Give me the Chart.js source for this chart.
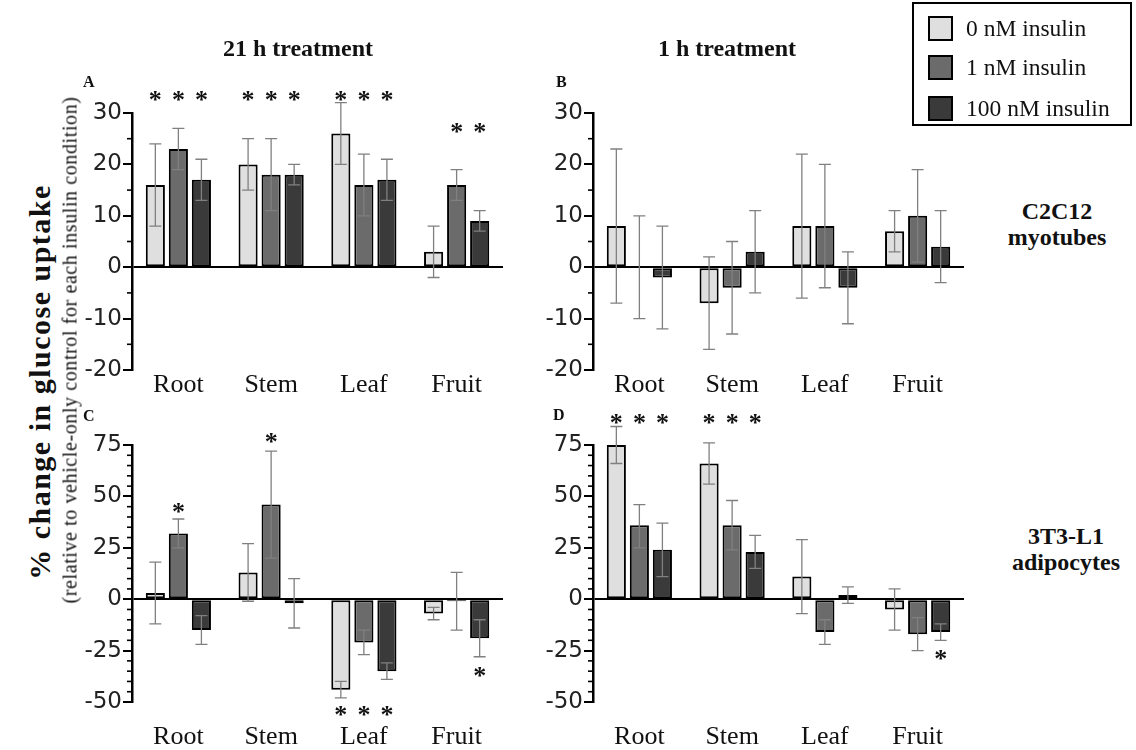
<!DOCTYPE html>
<html>
<head>
<meta charset="utf-8">
<script src="https://cdn.jsdelivr.net/npm/chart.js@4"></script>
<style>
  html, body { margin:0; padding:0; background:#fff; overflow:hidden; }
  body { width:1136px; height:750px; position:relative; font-family:"Liberation Serif", serif; color:#111; }
  canvas { position:absolute; }
  .t { position:absolute; white-space:nowrap; }
  .title { font-weight:bold; font-size:24px; transform:translateX(-50%); }
  .letter { font-weight:bold; font-size:16px; }
  .side { font-weight:bold; font-size:24px; text-align:center; line-height:26px; transform:translateX(-50%); }
  .ytitle { font-weight:bold; font-size:30px; letter-spacing:1.5px; transform:translate(-50%,-50%) rotate(-90deg); }
  .ysub { font-size:20px; letter-spacing:0.6px; transform:translate(-50%,-50%) rotate(-90deg); }
  #legend { position:absolute; left:912px; top:2px; width:216px; height:120px; border:2px solid #000; }
  .li { position:absolute; left:14px; height:25px; font-size:23.5px; white-space:nowrap; }
  .sw { position:absolute; left:0; top:0; width:21px; height:21px; border:2px solid #000; }
  .lt { position:absolute; left:38px; top:-2px; white-space:nowrap; line-height:28px; }
</style>
</head>
<body>
<canvas id="cA" width="440" height="360" style="left:80px;top:60px"></canvas>
<canvas id="cB" width="440" height="360" style="left:541px;top:60px"></canvas>
<canvas id="cC" width="440" height="360" style="left:80px;top:392px"></canvas>
<canvas id="cD" width="440" height="360" style="left:541px;top:392px"></canvas>

<div class="t title" style="left:298px;top:35px">21 h treatment</div>
<div class="t title" style="left:727px;top:35px">1 h treatment</div>
<div class="t letter" style="left:83px;top:73px">A</div>
<div class="t letter" style="left:556px;top:73px">B</div>
<div class="t letter" style="left:83px;top:407px">C</div>
<div class="t letter" style="left:553px;top:406px">D</div>
<div class="t side" style="left:1057px;top:198px">C2C12<br>myotubes</div>
<div class="t side" style="left:1066px;top:523px">3T3-L1<br>adipocytes</div>
<div class="t ytitle" style="left:40px;top:382px">% change in glucose uptake</div>
<div class="t ysub" style="left:70px;top:350px">(relative to vehicle-only control for each insulin condition)</div>

<div id="legend"></div>

<script>
// ---------- DATA ----------
const categories = ['Root', 'Stem', 'Leaf', 'Fruit'];
const seriesNames = ['0 nM insulin', '1 nM insulin', '100 nM insulin'];

// Panel A: 21 h treatment, C2C12 myotubes
const A_0nM = [16, 20, 26, 3];
const A_0nM_lo = [8, 15, 20, -2];
const A_0nM_hi = [24, 25, 32, 8];
const A_1nM = [23, 18, 16, 16];
const A_1nM_lo = [19, 11, 10, 13];
const A_1nM_hi = [27, 25, 22, 19];
const A_100nM = [17, 18, 17, 9];
const A_100nM_lo = [13, 16, 13, 7];
const A_100nM_hi = [21, 20, 21, 11];
const A_0nM_star = [33.5, 33.5, 33.5, null];
const A_1nM_star = [33.5, 33.5, 33.5, 27.3];
const A_100nM_star = [33.5, 33.5, 33.5, 27.3];

// Panel B: 1 h treatment, C2C12 myotubes
const B_0nM = [8, -7, 8, 7];
const B_0nM_lo = [-7, -16, -6, 3];
const B_0nM_hi = [23, 2, 22, 11];
const B_1nM = [0, -4, 8, 10];
const B_1nM_lo = [-10, -13, -4, 1];
const B_1nM_hi = [10, 5, 20, 19];
const B_100nM = [-2, 3, -4, 4];
const B_100nM_lo = [-12, -5, -11, -3];
const B_100nM_hi = [8, 11, 3, 11];
const B_0nM_star = [null, null, null, null];
const B_1nM_star = [null, null, null, null];
const B_100nM_star = [null, null, null, null];

// Panel C: 21 h treatment, 3T3-L1 adipocytes
const C_0nM = [3, 13, -44, -7];
const C_0nM_lo = [-12, -1, -48, -10];
const C_0nM_hi = [18, 27, -40, -4];
const C_1nM = [32, 46, -21, -1];
const C_1nM_lo = [25, 20, -27, -15];
const C_1nM_hi = [39, 72, -15, 13];
const C_100nM = [-15, -2, -35, -19];
const C_100nM_lo = [-22, -14, -39, -28];
const C_100nM_hi = [-8, 10, -31, -10];
const C_0nM_star = [null, null, -54, null];
const C_1nM_star = [45, 79, -54, null];
const C_100nM_star = [null, null, -54, -35];

// Panel D: 1 h treatment, 3T3-L1 adipocytes
const D_0nM = [75, 66, 11, -5];
const D_0nM_lo = [66, 56, -7, -15];
const D_0nM_hi = [84, 76, 29, 5];
const D_1nM = [36, 36, -16, -17];
const D_1nM_lo = [25, 24, -22, -25];
const D_1nM_hi = [46, 48, -10, -9];
const D_100nM = [24, 23, 2, -16];
const D_100nM_lo = [11, 15, -2, -20];
const D_100nM_hi = [37, 31, 6, -12];
const D_0nM_star = [88, 88, null, null];
const D_1nM_star = [88, 88, null, null];
const D_100nM_star = [88, 88, null, -26.5];

// axis ranges / ticks
const yTopRange = { min: -20, max: 30, step: 10, minor: 5 };
const yBotRange = { min: -50, max: 75, step: 25, minor: 5 };

// ---------- STYLE ----------
const fills = ['#dfdfdf', '#6b6b6b', '#3a3a3a'];

// legend (HTML)
(function () {
  const lg = document.getElementById('legend');
  const tops = [12, 51, 92];
  seriesNames.forEach((n, i) => {
    const d = document.createElement('div');
    d.className = 'li';
    d.style.top = tops[i] + 'px';
    d.innerHTML = '<div class="sw" style="background:' + fills[i] + '"></div><div class="lt">' + n + '</div>';
    lg.appendChild(d);
  });
})();

const extrasPlugin = {
  id: 'extras',
  afterDatasetsDraw(chart) {
    const ctx = chart.ctx;
    const y = chart.scales.y;
    ctx.save();
    // error bars
    chart.data.datasets.forEach((ds, i) => {
      const meta = chart.getDatasetMeta(i);
      meta.data.forEach((bar, j) => {
        const x = bar.x;
        const yl = y.getPixelForValue(ds.errLo[j]);
        const yh = y.getPixelForValue(ds.errHi[j]);
        ctx.strokeStyle = '#808080';
        ctx.lineWidth = 1.3;
        ctx.beginPath();
        ctx.moveTo(x, yl); ctx.lineTo(x, yh);
        ctx.moveTo(x - 6, yl); ctx.lineTo(x + 6, yl);
        ctx.moveTo(x - 6, yh); ctx.lineTo(x + 6, yh);
        ctx.stroke();
      });
    });
    // significance stars
    ctx.fillStyle = '#111';
    ctx.font = 'bold 26px "Liberation Serif"';
    ctx.textAlign = 'center';
    ctx.textBaseline = 'alphabetic';
    chart.data.datasets.forEach((ds, i) => {
      const meta = chart.getDatasetMeta(i);
      meta.data.forEach((bar, j) => {
        const v = ds.stars[j];
        if (v === null || v === undefined) return;
        const py = y.getPixelForValue(v);
        ctx.fillText('*', bar.x, py + 13);
      });
    });
    // minor ticks
    const r = chart.options.plugins.extras.range;
    ctx.strokeStyle = '#000';
    ctx.lineWidth = 1.6;
    const ax = chart.chartArea.left;
    for (let v = r.min; v <= r.max; v += r.minor) {
      if ((v - r.min) % r.step === 0) continue;
      const py = y.getPixelForValue(v);
      ctx.beginPath();
      ctx.moveTo(ax - 5, py); ctx.lineTo(ax, py);
      ctx.stroke();
    }
    ctx.restore();
  }
};

function makeChart(id, vals, los, his, stars, range, xPad) {
  const datasets = vals.map((v, i) => ({
    label: seriesNames[i],
    data: v,
    errLo: los[i],
    errHi: his[i],
    stars: stars[i],
    backgroundColor: fills[i],
    borderColor: '#000',
    borderWidth: 2,
    borderSkipped: false,
    categoryPercentage: 0.745,
    barPercentage: 0.83
  }));
  return new Chart(document.getElementById(id), {
    type: 'bar',
    data: { labels: categories, datasets },
    plugins: [extrasPlugin],
    options: {
      responsive: false,
      animation: false,
      devicePixelRatio: 1,
      layout: { padding: { top: 53, right: 17, left: 0, bottom: 0 } },
      plugins: {
        legend: { display: false },
        tooltip: { enabled: false },
        extras: { range }
      },
      scales: {
        x: {
          grid: { display: false, drawTicks: false },
          border: { display: false },
          ticks: {
            padding: xPad,
            color: '#111',
            font: { family: 'Liberation Serif', size: 26 }
          },
          afterFit(s) { s.height = 50; }
        },
        y: {
          min: range.min,
          max: range.max,
          afterFit(s) { s.width = 52; },
          border: { display: true, color: '#000', width: 2.5 },
          grid: {
            color: (c) => (c.tick && c.tick.value === 0) ? '#000' : 'rgba(0,0,0,0)',
            lineWidth: 2,
            drawTicks: true,
            tickLength: 9,
            tickColor: '#000',
            tickWidth: 2
          },
          ticks: {
            stepSize: range.step,
            padding: 1,
            color: '#222',
            font: { family: 'DejaVu Sans', size: 23 }
          }
        }
      }
    }
  });
}

makeChart('cA', [A_0nM, A_1nM, A_100nM], [A_0nM_lo, A_1nM_lo, A_100nM_lo], [A_0nM_hi, A_1nM_hi, A_100nM_hi],
  [A_0nM_star, A_1nM_star, A_100nM_star], yTopRange, 0);
makeChart('cB', [B_0nM, B_1nM, B_100nM], [B_0nM_lo, B_1nM_lo, B_100nM_lo], [B_0nM_hi, B_1nM_hi, B_100nM_hi],
  [B_0nM_star, B_1nM_star, B_100nM_star], yTopRange, 0);
makeChart('cC', [C_0nM, C_1nM, C_100nM], [C_0nM_lo, C_1nM_lo, C_100nM_lo], [C_0nM_hi, C_1nM_hi, C_100nM_hi],
  [C_0nM_star, C_1nM_star, C_100nM_star], yBotRange, 20);
makeChart('cD', [D_0nM, D_1nM, D_100nM], [D_0nM_lo, D_1nM_lo, D_100nM_lo], [D_0nM_hi, D_1nM_hi, D_100nM_hi],
  [D_0nM_star, D_1nM_star, D_100nM_star], yBotRange, 20);
</script>
</body>
</html>
